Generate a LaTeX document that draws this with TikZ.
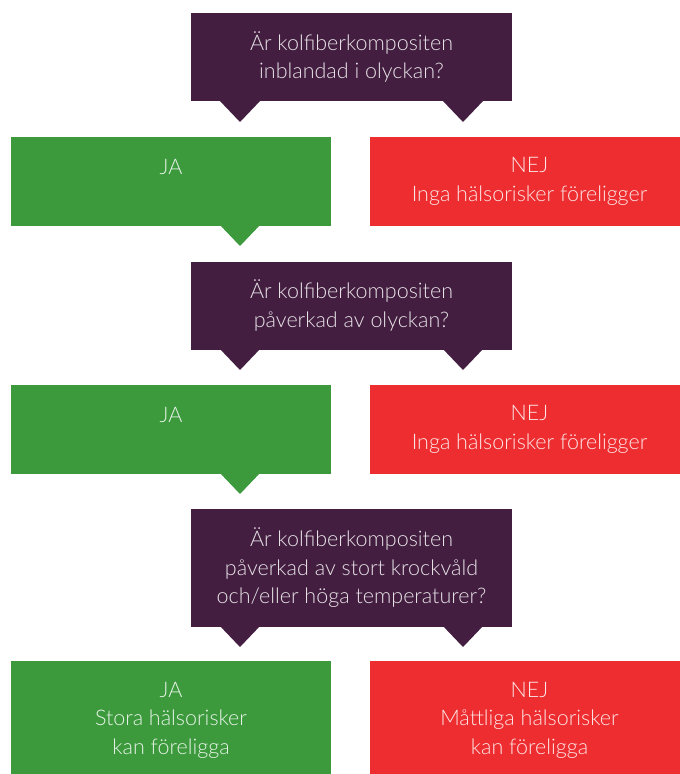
\documentclass[tikz,border=0pt]{standalone}
\usepackage{fontspec}
\setmainfont{Lato Light}
\definecolor{qpurple}{HTML}{431E40}
\definecolor{jagreen}{HTML}{3C9A3D}
\definecolor{nejred}{HTML}{EE2D30}

\begin{document}
\begin{tikzpicture}[x=1pt, y=-1pt,
		box/.style={rectangle, inner sep=0pt, text=white, text opacity=.88, align=center, font=\fontsize{21.5}{28.5}\selectfont},
		question/.style={box, fill=qpurple, minimum width=321pt, minimum height=88pt},
		yes/.style={box, fill=jagreen, minimum width=320pt, minimum height=89pt},
		no/.style={box, fill=nejred, minimum width=320pt, minimum height=89pt}]
		\useasboundingbox (0,0) rectangle (680,774);
		% questions
		\node (q1)[question] at (351.5,57) {Är kolfiberkompositen\\inblandad i olyckan?};
		\node (q2)[question] at (351.5,305.5) {Är kolfiberkompositen\\påverkad av olyckan?};
		\node (q3)[question, minimum height=118pt] at (351.5,568) {Är kolfiberkompositen\\påverkad av stort krockvåld\\och/eller höga temperaturer?};
		% answers
		\node (ja1)[yes] at (171,181.5) {JA\\\mbox{}};
		\node (nej1)[no] at (529.5,181.5) {NEJ\\Inga hälsorisker föreligger};
		\node (ja2)[yes] at (171,429.5) {JA\\\mbox{}};
		\node (nej2)[no] at (529.5,429.5) {NEJ\\Inga hälsorisker föreligger};
		\node (ja3)[yes, minimum height=118pt] at (171,720) {JA\\Stora hälsorisker\\kan föreligga};
		\node (nej3)[no, minimum height=118pt] at (529.5,720) {NEJ\\Måttliga hälsorisker\\kan föreligga};
		% pointers
		\coordinate (q1ja) at (240,122);
		\coordinate (q1nej) at (463,122);
		\coordinate (ja1q) at (240,246);
		\coordinate (q2ja) at (240,370);
		\coordinate (q2nej) at (463,370);
		\coordinate (ja2q) at (240,494);
		\coordinate (q3ja) at (240,647);
		\coordinate (q3nej) at (463,647);
		\fill[qpurple] (q1ja) -- ++(-21,-22) -- ++(42,0) -- cycle;
		\fill[qpurple] (q1nej) -- ++(-21,-22) -- ++(42,0) -- cycle;
		\fill[jagreen] (ja1q) -- ++(-21,-22) -- ++(42,0) -- cycle;
		\fill[qpurple] (q2ja) -- ++(-21,-22) -- ++(42,0) -- cycle;
		\fill[qpurple] (q2nej) -- ++(-21,-22) -- ++(42,0) -- cycle;
		\fill[jagreen] (ja2q) -- ++(-21,-22) -- ++(42,0) -- cycle;
		\fill[qpurple] (q3ja) -- ++(-21,-22) -- ++(42,0) -- cycle;
		\fill[qpurple] (q3nej) -- ++(-21,-22) -- ++(42,0) -- cycle;
	\end{tikzpicture}
\end{document}
